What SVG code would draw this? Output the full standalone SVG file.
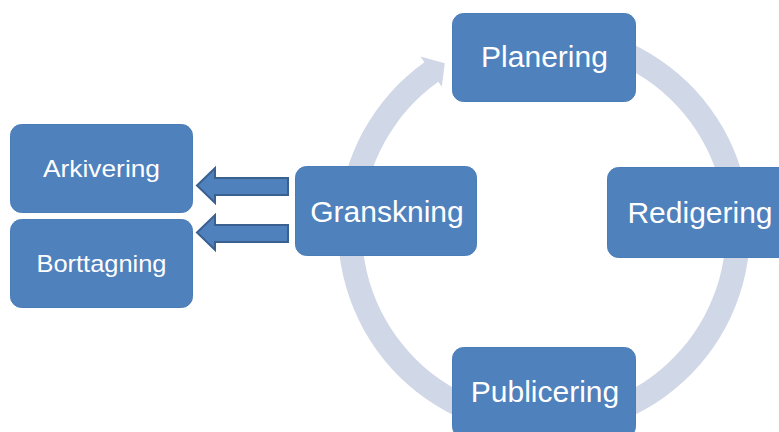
<svg xmlns="http://www.w3.org/2000/svg" width="779" height="432" viewBox="0 0 779 432">
  <style>
    .box { fill: #4F81BD; stroke: #4A7CB8; stroke-width: 1; }
    .big { font-family: "Liberation Sans", Arial, sans-serif; font-size: 30px; fill: #FFFFFF; text-anchor: middle; }
    .small { font-family: "Liberation Sans", Arial, sans-serif; font-size: 24px; fill: #FFFFFF; text-anchor: middle; }
    .ring { fill: #D0D7E7; }
    .barrow { fill: #4F81BD; stroke: #3A6090; stroke-width: 2; stroke-linejoin: miter; }
  </style>
  <rect width="779" height="432" fill="#FFFFFF"/>
  <g id="connectors">
    <path class="ring" d="M 597.3 31.0 A 206 206 0 1 1 424.4 62.3 L 420.3 56.6 L 444.8 63.2 L 441.8 86.7 L 438.3 81.8 A 182 182 0 1 0 591.1 54.2 Z"/>
    <path class="barrow" d="M 197 185.5 L 215 168 L 215 178 L 288 178 L 288 195 L 215 195 L 215 203 Z"/>
    <path class="barrow" d="M 197 232.5 L 215 215 L 215 225 L 288 225 L 288 242 L 215 242 L 215 250 Z"/>
  </g>
  <g id="planering">
    <rect class="box" x="452.5" y="13.5" width="183" height="88" rx="11"/>
    <text class="big" x="544.5" y="67">Planering</text>
  </g>
  <g id="redigering">
    <rect class="box" x="607.5" y="167.5" width="185" height="90" rx="11"/>
    <text class="big" x="700" y="223">Redigering</text>
  </g>
  <g id="publicering">
    <rect class="box" x="452.5" y="347.5" width="183" height="90" rx="11"/>
    <text class="big" x="545" y="402">Publicering</text>
  </g>
  <g id="granskning">
    <rect class="box" x="295.5" y="166.5" width="181" height="89" rx="11"/>
    <text class="big" x="387" y="222">Granskning</text>
  </g>
  <g id="arkivering">
    <rect class="box" x="10.5" y="124.5" width="182" height="88" rx="11"/>
    <text class="small" x="101.5" y="177" textLength="117" lengthAdjust="spacingAndGlyphs">Arkivering</text>
  </g>
  <g id="borttagning">
    <rect class="box" x="10.5" y="219.5" width="182" height="88" rx="11"/>
    <text class="small" x="101.5" y="272" textLength="130" lengthAdjust="spacingAndGlyphs">Borttagning</text>
  </g>
</svg>
